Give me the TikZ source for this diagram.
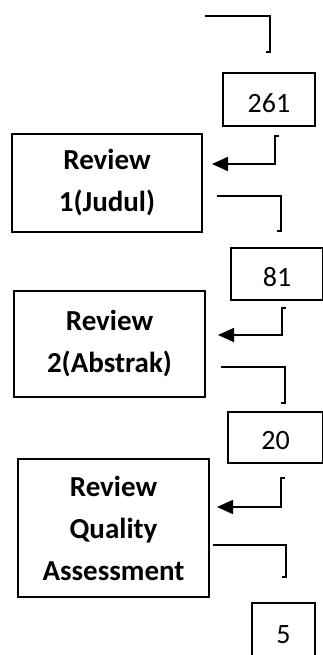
\documentclass[tikz,border=0pt]{standalone}
\usepackage{fontspec}
\setmainfont{Carlito}
\usetikzlibrary{arrows.meta}
\begin{document}
\begin{tikzpicture}[x=1pt,y=-1pt,
  line width=1.7pt,
  numbox/.style={draw, rectangle, inner sep=0pt, text depth=0pt, font=\fontsize{28}{32}\selectfont},
  revbox/.style={draw, rectangle, inner sep=0pt, align=center, font=\fontsize{29}{42}\selectfont\bfseries},
  conn/.style={line width=1.7pt},
  arr/.style={line width=1.7pt, -{Triangle[length=16pt,width=14pt]}}]
\useasboundingbox (0,0) rectangle (322,655);
% number boxes
\node[numbox, text height=25.5pt, minimum width=92pt, minimum height=53pt] (n261) at (269,99.5) {261};
\node[numbox, text height=24pt, minimum width=92pt, minimum height=52pt] (n81) at (277,274) {81};
\node[numbox, text height=24pt, minimum width=95pt, minimum height=51pt] (n20) at (275.5,437.5) {20};
\node[numbox, text height=19pt, minimum width=63pt, minimum height=62pt] (n5) at (283.5,634) {5};
% review boxes
\node[revbox, minimum width=190pt, minimum height=98pt] (r1) at (107,183) {Review\\1(Judul)};
\node[revbox, minimum width=191pt, minimum height=106pt] (r2) at (109.5,344) {Review\\2(Abstrak)};
\node[revbox, minimum width=191pt, minimum height=138pt] (r3) at (113.5,528) {Review\\Quality\\Assessment};
% connector coordinates
\coordinate (c0a) at (205,16); \coordinate (c0b) at (270,16); \coordinate (c0c) at (270,52); \coordinate (c0d) at (266,52);
\coordinate (a1a) at (279,136); \coordinate (a1b) at (275,136); \coordinate (a1c) at (275,164); \coordinate (a1d) at (212,164);
\coordinate (c1a) at (217,196); \coordinate (c1b) at (281,196); \coordinate (c1c) at (281,231); \coordinate (c1d) at (277,231);
\coordinate (a2a) at (286,308); \coordinate (a2b) at (282,308); \coordinate (a2c) at (282,335); \coordinate (a2d) at (218,335);
\coordinate (c2a) at (221,367); \coordinate (c2b) at (285,367); \coordinate (c2c) at (285,403); \coordinate (c2d) at (281,403);
\coordinate (a3a) at (285,478); \coordinate (a3b) at (281,478); \coordinate (a3c) at (281,507); \coordinate (a3d) at (217,507);
\coordinate (c3a) at (213,545); \coordinate (c3b) at (286,545); \coordinate (c3c) at (286,577); \coordinate (c3d) at (282,577);
% connectors
\draw[conn] (c0a) -- (c0b) -- (c0c) -- (c0d);
\draw[arr] (a1a) -- (a1b) -- (a1c) -- (a1d);
\draw[conn] (c1a) -- (c1b) -- (c1c) -- (c1d);
\draw[arr] (a2a) -- (a2b) -- (a2c) -- (a2d);
\draw[conn] (c2a) -- (c2b) -- (c2c) -- (c2d);
\draw[arr] (a3a) -- (a3b) -- (a3c) -- (a3d);
\draw[conn] (c3a) -- (c3b) -- (c3c) -- (c3d);
\end{tikzpicture}
\end{document}
